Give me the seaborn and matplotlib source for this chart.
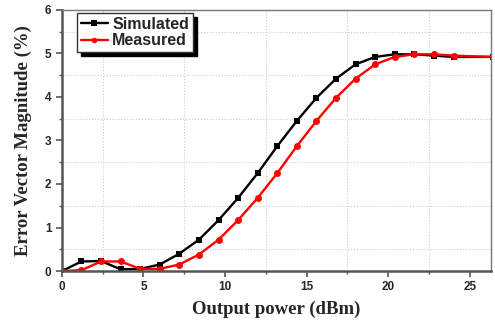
import numpy as np
import pandas as pd
import seaborn as sns
import matplotlib.pyplot as plt
from matplotlib.ticker import MultipleLocator

power = [0, 1.2, 2.4, 3.6, 4.8, 6.0, 7.2, 8.4, 9.6, 10.8, 12.0, 13.2, 14.4,
         15.6, 16.8, 18.0, 19.2, 20.4, 21.6, 22.8, 24.0, 26.4]
simulated = [0, 0.22, 0.23, 0.04, 0.05, 0.15, 0.40, 0.72, 1.17, 1.68, 2.25, 2.87,
             3.45, 3.98, 4.42, 4.75, 4.92, 4.98, 4.98, 4.95, 4.92, 4.92]
measured = [0, 0.02, 0.22, 0.22, 0.05, 0.05, 0.15, 0.38, 0.72, 1.17, 1.68, 2.25,
            2.87, 3.45, 3.98, 4.42, 4.75, 4.92, 4.98, 4.98, 4.95, 4.92]

df = pd.DataFrame({'power': power * 2,
                   'evm': simulated + measured,
                   'series': ['Simulated'] * len(power) + ['Measured'] * len(power)})

sns.set_style('white')

fig = plt.figure(figsize=(4.95, 3.2), dpi=100)
ax = fig.add_axes([0.125, 0.153, 0.867, 0.816])

sns.lineplot(data=df, x='power', y='evm', hue='series', style='series',
             palette={'Simulated': 'black', 'Measured': 'red'},
             markers={'Simulated': 's', 'Measured': 'o'},
             dashes=False, linewidth=1.7, markersize=5, markeredgewidth=0,
             ax=ax)

ax.set_xlim(0, 26.3)
ax.set_ylim(0, 6)
ax.xaxis.set_major_locator(MultipleLocator(5))
ax.xaxis.set_minor_locator(MultipleLocator(2.5))
ax.yaxis.set_major_locator(MultipleLocator(1))
ax.yaxis.set_minor_locator(MultipleLocator(0.5))

# dotted grid on the minor positions only
ax.grid(False)
for v in np.arange(2.5, 26.3, 5):
    ax.axvline(v, color='#cccccc', lw=0.8, ls=':', zorder=0)
for v in np.arange(0.5, 6, 1):
    ax.axhline(v, color='#cccccc', lw=0.8, ls=':', zorder=0)

for s in ['left', 'bottom']:
    ax.spines[s].set_color('#555555')
    ax.spines[s].set_linewidth(1.8)
for s in ['top', 'right']:
    ax.spines[s].set_color('#777777')
    ax.spines[s].set_linewidth(1.0)

ax.tick_params(which='both', direction='out', color='#555555', bottom=True, left=True)
ax.tick_params(which='major', length=4, width=1.2, labelsize=8.5)
ax.tick_params(which='minor', length=2.5, width=1.0)
for lab in ax.get_xticklabels() + ax.get_yticklabels():
    lab.set_fontfamily('Liberation Sans')
    lab.set_fontweight('bold')

ax.set_xlabel('Output power (dBm)', fontfamily='Liberation Serif',
              fontweight='bold', fontsize=13.5, labelpad=5)
ax.set_ylabel('Error Vector Magnitude (%)', fontfamily='Liberation Serif',
              fontweight='bold', fontsize=13.5, labelpad=9)

leg = ax.legend(loc='upper left', bbox_to_anchor=(0.035, 0.99), frameon=True,
                fancybox=False,
                shadow={'color': 'black', 'alpha': 1, 'ox': 3, 'oy': -3},
                prop={'family': 'Liberation Sans', 'weight': 'bold', 'size': 11.5},
                handlelength=1.7, handletextpad=0.25, borderpad=0.25,
                labelspacing=0.1, borderaxespad=0, markerscale=0.8)
leg.get_frame().set_edgecolor('#333333')
leg.get_frame().set_linewidth(1.0)

plt.savefig('out.png', dpi=100)
